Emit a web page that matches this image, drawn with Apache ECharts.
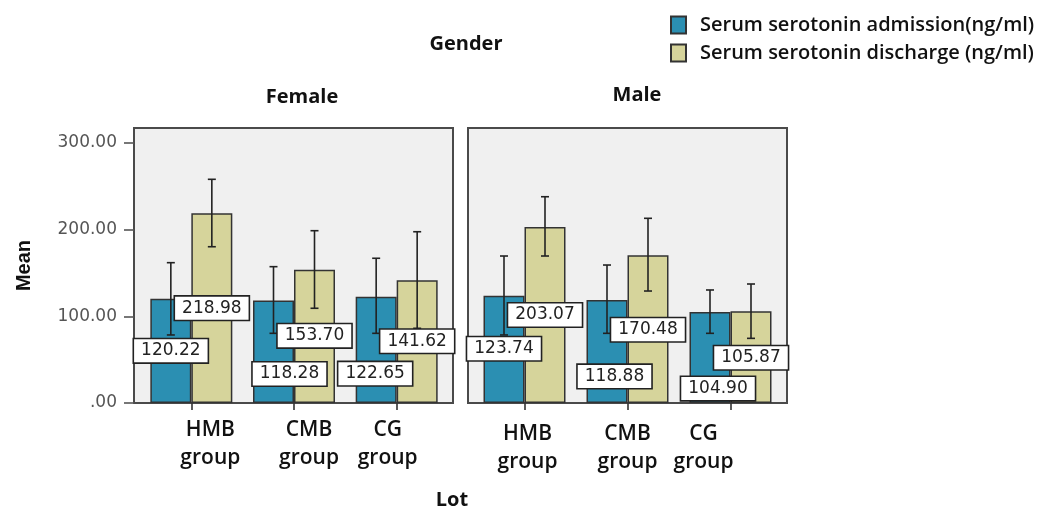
<!DOCTYPE html>
<html>
<head>
<meta charset="utf-8">
<title>Serum serotonin by lot and gender</title>
<script src="https://cdn.jsdelivr.net/npm/echarts@6/dist/echarts.min.js"></script>
<style>
  html, body { margin: 0; padding: 0; background: #ffffff; }
  #chart { width: 1054px; height: 512px; }
</style>
</head>
<body>
<div id="chart"></div>
<script>
// ---- data ----
const categories = ['HMB group', 'CMB group', 'CG group'];
const seriesNames = ['Serum serotonin admission(ng/ml)', 'Serum serotonin discharge (ng/ml)'];
const panels = ['Female', 'Male'];

const femaleAdmission = [120.22, 118.28, 122.65];
const femaleDischarge = [218.98, 153.70, 141.62];
const maleAdmission   = [123.74, 118.88, 104.90];
const maleDischarge   = [203.07, 170.48, 105.87];

// error bar ranges [low, high]
const femaleAdmissionCI = [[78.5, 161.9], [80.4, 157.3], [80.4, 167.0]];
const femaleDischargeCI = [[180.3, 258.1], [109.3, 198.8], [86.2, 197.6]];
const maleAdmissionCI   = [[78.5, 169.6], [80.4, 159.2], [80.4, 130.4]];
const maleDischargeCI   = [[169.6, 238.0], [129.2, 213.1], [74.6, 137.3]];

const yTicks = [0, 100, 200, 300];

// ---- layout / style ----
const FONT = '"Open Sans", "Noto Sans", sans-serif';
const NUM_FONT = '"DejaVu Sans", sans-serif';
const BLUE = '#2b8fb2';
const KHAKI = '#d6d49b';
const BAR_W = 41;
const Y_MAX = 317.3;

// value-box placement relative to the bar top: [dx, drop]
const valueBoxPlacement = [
  [ [[0, 52], [16, 73.5], [-1, 77]], [[0, 95], [0, 66], [0, 61]] ],
  [ [[0, 53], [7.5, 76.5], [8, 76.5]], [[0, 88], [0, 74.5], [0, 46.5]] ]
];
// horizontal nudge of the category labels
const categoryLabelNudge = [[19, 15, -9], [3, 0, -27]];

const panelValues = [
  [femaleAdmission, femaleDischarge],
  [maleAdmission, maleDischarge]
];
const panelCI = [
  [femaleAdmissionCI, femaleDischargeCI],
  [maleAdmissionCI, maleDischargeCI]
];

const chart = echarts.init(document.getElementById('chart'), null, { renderer: 'canvas' });

function categoryData(p) {
  return categories.map((c, i) => {
    const dx = categoryLabelNudge[p][i];
    return {
      value: c,
      textStyle: { padding: dx >= 0 ? [0, 0, 0, 2 * dx] : [0, -2 * dx, 0, 0] }
    };
  });
}

function overlayRenderer(p) {
  return function (params, api) {
    const i = api.value(0);
    const s = api.value(1);
    const mean = api.value(2);
    const lo = api.value(3);
    const hi = api.value(4);
    const top = api.coord([i, mean]);
    const x = top[0] + (s === 0 ? -BAR_W / 2 : BAR_W / 2);
    const yHi = api.coord([i, hi])[1];
    const yLo = api.coord([i, lo])[1];
    const place = valueBoxPlacement[p][s][i];
    const lineStyle = { stroke: '#222', lineWidth: 1.6 };
    const cap = 4;
    return {
      type: 'group',
      children: [
        { type: 'line', shape: { x1: x, y1: yHi, x2: x, y2: yLo }, style: lineStyle },
        { type: 'line', shape: { x1: x - cap, y1: yHi, x2: x + cap, y2: yHi }, style: lineStyle },
        { type: 'line', shape: { x1: x - cap, y1: yLo, x2: x + cap, y2: yLo }, style: lineStyle },
        {
          type: 'text',
          z2: 20,
          x: x + place[0],
          y: top[1] + place[1],
          style: {
            text: mean.toFixed(2),
            fontFamily: NUM_FONT,
            fontSize: 17,
            fill: '#222',
            align: 'center',
            verticalAlign: 'middle',
            backgroundColor: '#ffffff',
            borderColor: '#222',
            borderWidth: 1.6,
            padding: [3, 7, 3, 7]
          }
        }
      ]
    };
  };
}

const frameGrid = (left) => ({
  left: left, top: 128, width: 319, height: 275,
  show: true, backgroundColor: '#f0f0f0', borderColor: '#4a4a4a', borderWidth: 2
});
const dataGrid = (left, width) => ({ left: left, top: 128, width: width, height: 275, show: false });

const xAxes = [
  { gridIndex: 0, type: 'category', show: false, data: categories },
  { gridIndex: 1, type: 'category', show: false, data: categories }
];
const yAxes = [
  { gridIndex: 0, type: 'value', show: false, min: 0, max: Y_MAX },
  { gridIndex: 1, type: 'value', show: false, min: 0, max: Y_MAX }
];

panels.forEach((name, p) => {
  xAxes.push({
    gridIndex: 2 + p,
    type: 'category',
    data: categoryData(p),
    axisLine: { show: false },
    axisTick: { show: true, alignWithLabel: true, length: 7, lineStyle: { color: '#333', width: 1.6 } },
    axisLabel: {
      interval: 0,
      margin: p === 0 ? 13 : 17,
      fontFamily: FONT,
      fontSize: 21,
      fontWeight: 600,
      lineHeight: 28,
      color: '#111',
      formatter: (v) => v.replace(' ', '\n')
    }
  });
  yAxes.push({
    gridIndex: 2 + p,
    type: 'value',
    show: p === 0,
    min: 0,
    max: Y_MAX,
    interval: 100,
    offset: 6,
    name: p === 0 ? 'Mean' : '',
    nameLocation: 'middle',
    nameRotate: 90,
    nameGap: 100,
    nameTextStyle: { fontFamily: '"Liberation Sans", Arial, sans-serif', fontWeight: 'bold', fontSize: 20, color: '#111' },
    axisLine: { show: false },
    splitLine: { show: false },
    axisTick: { show: true, length: 10, customValues: yTicks, lineStyle: { color: '#555', width: 1.6 } },
    axisLabel: {
      margin: 17,
      customValues: yTicks,
      fontFamily: NUM_FONT,
      fontSize: 17,
      color: '#555',
      formatter: (v) => (v === 0 ? '.00' : v.toFixed(2))
    }
  });
});

const series = [];
panels.forEach((name, p) => {
  panelValues[p].forEach((vals, s) => {
    series.push({
      type: 'bar',
      name: seriesNames[s],
      xAxisIndex: 2 + p,
      yAxisIndex: 2 + p,
      data: vals,
      barWidth: BAR_W,
      barGap: '0%',
      z: 2,
      itemStyle: { color: s === 0 ? BLUE : KHAKI, borderColor: '#333', borderWidth: 1.5 }
    });
  });
  const rows = [];
  categories.forEach((c, i) => {
    panelValues[p].forEach((vals, s) => {
      const ci = panelCI[p][s][i];
      rows.push([i, s, vals[i], ci[0], ci[1]]);
    });
  });
  series.push({
    type: 'custom',
    xAxisIndex: 2 + p,
    yAxisIndex: 2 + p,
    z: 3,
    clip: false,
    silent: true,
    encode: { x: 0, y: 2 },
    data: rows,
    renderItem: overlayRenderer(p)
  });
});

const headingStyle = (text, x, y) => ({
  type: 'text',
  x: x, y: y,
  style: {
    text: text,
    fontFamily: FONT,
    fontSize: 20,
    fontWeight: 'bold',
    fill: '#111',
    align: 'center',
    verticalAlign: 'middle'
  }
});

chart.setOption({
  backgroundColor: '#ffffff',
  animation: false,
  legend: {
    orient: 'vertical',
    left: 670,
    top: 15,
    padding: 0,
    itemWidth: 15,
    itemHeight: 17,
    itemGap: 8,
    icon: 'rect',
    data: seriesNames,
    textStyle: {
      fontFamily: FONT,
      fontSize: 20,
      fontWeight: 600,
      color: '#111',
      lineHeight: 20,
      padding: [0, 0, 0, 9]
    }
  },
  grid: [frameGrid(134), frameGrid(468), dataGrid(140, 308), dataGrid(473, 309)],
  xAxis: xAxes,
  yAxis: yAxes,
  series: series,
  graphic: [
    headingStyle('Gender', 466, 44),
    headingStyle(panels[0], 302, 97),
    headingStyle(panels[1], 637, 95),
    headingStyle('Lot', 452, 500)
  ]
});
</script>
</body>
</html>
